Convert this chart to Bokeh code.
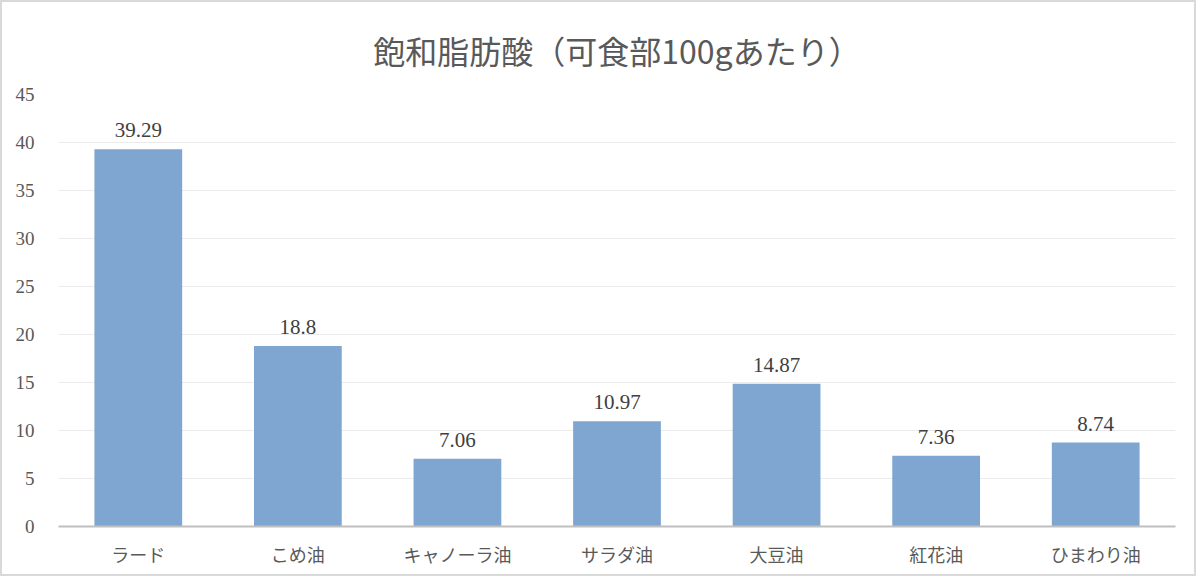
from bokeh.plotting import figure
from bokeh.models import ColumnDataSource, Range1d, FactorRange, SingleIntervalTicker
from bokeh.core.properties import value
from bokeh.embed import file_html
from bokeh.resources import INLINE

title_text = "飽和脂肪酸（可食部100gあたり）"
categories = ["ラード", "こめ油", "キャノーラ油", "サラダ油", "大豆油", "紅花油", "ひまわり油"]
values = [39.29, 18.8, 7.06, 10.97, 14.87, 7.36, 8.74]
value_labels = ["39.29", "18.8", "7.06", "10.97", "14.87", "7.36", "8.74"]
y_max = 45

src = ColumnDataSource(dict(cat=categories, val=values, lab=value_labels))

p = figure(width=1196, height=576, x_range=FactorRange(*categories, range_padding=0),
           y_range=Range1d(0, y_max), output_backend="svg", toolbar_location=None,
           min_border_left=56, min_border_right=23, min_border_top=91, min_border_bottom=52,
           styles={"border": "2px solid #d9d9d9"})
p.x_range.range_padding = 0
p.outline_line_color = None
p.background_fill_color = "white"
p.border_fill_color = "white"

p.title.text = title_text
p.title.align = "center"
p.title.text_font = "Noto Sans CJK JP"
p.title.text_font_size = "32px"
p.title.text_font_style = "normal"
p.title.text_color = "#595959"
p.title.offset = 0
p.title.standoff = 44

p.vbar(x="cat", top="val", width=0.55, source=src, fill_color="#7EA6D1", line_color=None)
p.text(x="cat", y="val", text="lab", source=src, text_align="center", text_baseline="bottom",
       y_offset=-12, text_font=value("Liberation Serif"), text_font_size="21px", text_color="#404040")

p.yaxis.ticker = SingleIntervalTicker(interval=5)
p.yaxis.axis_line_color = None
p.yaxis.major_tick_line_color = None
p.yaxis.minor_tick_line_color = None
p.yaxis.major_label_text_font = "Liberation Serif"
p.yaxis.major_label_text_font_size = "19px"
p.yaxis.major_label_text_color = "#595959"
p.yaxis.major_label_standoff = 18

p.xaxis.axis_line_color = "#bfbfbf"
p.xaxis.axis_line_width = 2
p.xaxis.major_tick_line_color = None
p.xaxis.minor_tick_line_color = None
p.xaxis.major_label_text_font = "Noto Sans CJK JP"
p.xaxis.major_label_text_font_size = "18px"
p.xaxis.major_label_text_color = "#595959"
p.xaxis.major_label_standoff = 8

p.xgrid.grid_line_color = None
p.ygrid.grid_line_color = "#ebebeb"
p.ygrid.grid_line_width = 1

open("out.html", "w").write(file_html(p, INLINE))
